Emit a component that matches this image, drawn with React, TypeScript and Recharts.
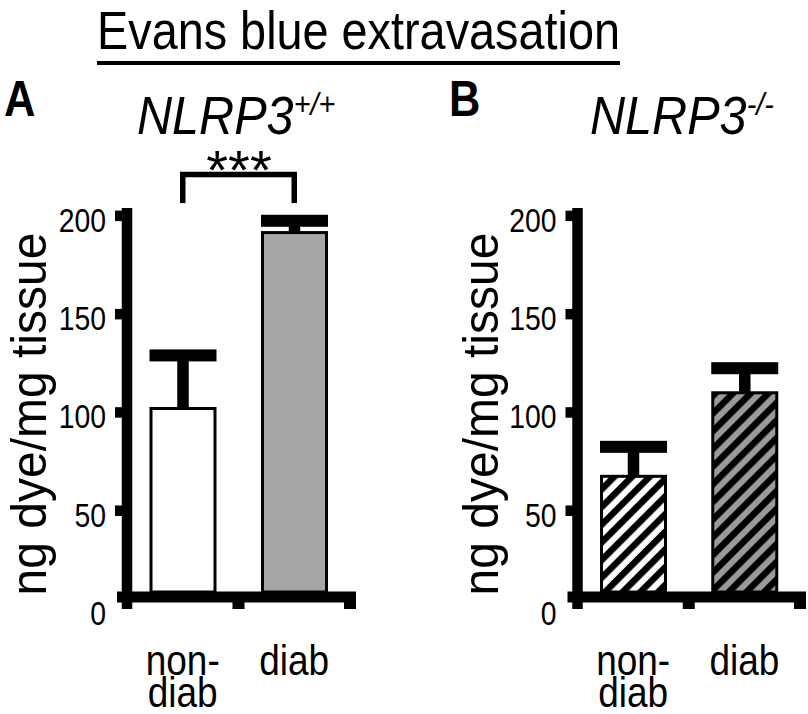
import React from 'react';
import { BarChart, Bar, XAxis, YAxis, ReferenceLine } from 'recharts';

const FONT = "'Liberation Sans', Arial, Helvetica, sans-serif";

// ---- data ----
const categories = ['non-diab', 'diab'];
const categoryLines = [['non-', 'diab'], ['diab']];
const wtMeans = [102, 191.5];
const wtErrors = [27, 6];
const koMeans = [67.5, 110];
const koErrors = [15, 12.5];
const yTicks = [0, 50, 100, 150, 200];
const yMax = 204;
const bracketY = 221;
const bracketLegY = 206.5;

const wtFills = ['#ffffff', '#a6a6a6'];
const koFills = ['url(#hatchWhite)', 'url(#hatchGray)'];

const wtData = categories.map((name, i) => ({ name, mean: wtMeans[i], err: wtErrors[i] }));
const koData = categories.map((name, i) => ({ name, mean: koMeans[i], err: koErrors[i] }));

// ---- layout ----
const CH = 714;
const PLOT_TOP = 208;
const XAXIS_H = 105;
const AXIS_OFFSET = 12; // x-axis line drawn above the zero line (Prism style)
const BAR_SIZE = 64;

const SText = ({ x, y, size, sx = 0.87, anchor = 'start', weight = 'normal', italic = false, rotate = 0, children }: any) => (
  <text
    transform={`translate(${x},${y}) rotate(${rotate}) scale(${sx},1)`}
    textAnchor={anchor}
    fontSize={size}
    fontWeight={weight}
    fontStyle={italic ? 'italic' : 'normal'}
    fontFamily={FONT}
    fill="#000"
  >
    {children}
  </text>
);

const makeBarShape = (fills: string[]) => (props: any) => {
  const { x, y, width, height, index } = props;
  const bottom = y + height - AXIS_OFFSET - 5;
  return (
    <rect x={x} y={y} width={width} height={Math.max(0, bottom - y)} fill={fills[index]} stroke="#000" strokeWidth={3} />
  );
};

const ErrorShape = (props: any) => {
  const { x, y, width, height } = props;
  const cx = x + width / 2;
  return (
    <g>
      <rect x={cx - 5.75} y={y} width={11.5} height={height} fill="#000" />
      <rect x={x - 1.5} y={y - 6} width={width + 3} height={12} fill="#000" />
    </g>
  );
};

const XAxisShape = (props: any) => {
  const { x1, y1, x2 } = props;
  const lineY = y1 - AXIS_OFFSET;
  const mid = (x1 + x2) / 2;
  return (
    <g>
      <rect x={x1 - 10} y={lineY - 5.5} width={x2 + 6 - (x1 - 10)} height={11} fill="#000" />
      {[mid, x2].map((t) => (
        <rect key={t} x={t - 6} y={lineY} width={12} height={AXIS_OFFSET} fill="#000" />
      ))}
    </g>
  );
};

const YTick = (props: any) => {
  const { x, y, payload } = props;
  return (
    <g>
      {payload.value !== 0 && <rect x={x + 10} y={y - 5.25} width={14} height={10.5} fill="#000" />}
      <SText x={x + 1} y={y + 16} size={33} sx={0.86} anchor="end">
        {payload.value}
      </SText>
    </g>
  );
};

const XTick = (props: any) => {
  const { x, y, payload } = props;
  const idx = categories.indexOf(payload.value);
  const lines = categoryLines[idx] || [payload.value];
  return (
    <g>
      {lines.map((ln, i) => (
        <SText key={i} x={x} y={y + 66 + i * 32} size={42} sx={0.88} anchor="middle">
          {ln}
        </SText>
      ))}
    </g>
  );
};

const Panel = ({ data, fills, width, marginRight, yAxisWidth, bracket }: any) => (
  <BarChart
    width={width}
    height={CH}
    data={data}
    margin={{ top: PLOT_TOP, right: marginRight, bottom: 0, left: 0 }}
    barSize={BAR_SIZE}
  >
    <XAxis
      dataKey="name"
      axisLine={false}
      tickLine={false}
      tickSize={0}
      tickMargin={0}
      height={XAXIS_H}
      interval={0}
      tick={<XTick />}
    />
    <YAxis
      type="number"
      domain={[0, yMax]}
      ticks={yTicks}
      interval={0}
      width={yAxisWidth}
      axisLine={{ stroke: '#000', strokeWidth: 10.5 }}
      tickLine={false}
      tickSize={22}
      tickMargin={0}
      tick={<YTick />}
    />
    <Bar dataKey="mean" stackId="s" isAnimationActive={false} shape={makeBarShape(fills)} />
    <Bar dataKey="err" stackId="s" isAnimationActive={false} shape={ErrorShape} />
    <ReferenceLine y={0} ifOverflow="visible" shape={(p: any) => <XAxisShape {...p} />} />
    {bracket && (
      <ReferenceLine
        ifOverflow="visible"
        stroke="#000"
        strokeWidth={5.5}
        strokeLinecap="square"
        segment={[{ x: categories[0], y: bracketY }, { x: categories[1], y: bracketY }]}
      />
    )}
    {bracket && (
      <ReferenceLine
        ifOverflow="visible"
        stroke="#000"
        strokeWidth={5.5}
        segment={[{ x: categories[0], y: bracketLegY }, { x: categories[0], y: bracketY }]}
      />
    )}
    {bracket && (
      <ReferenceLine
        ifOverflow="visible"
        stroke="#000"
        strokeWidth={5.5}
        segment={[{ x: categories[1], y: bracketLegY }, { x: categories[1], y: bracketY }]}
      />
    )}
  </BarChart>
);

export default function App() {
  return (
    <div style={{ position: 'absolute', left: 0, top: 0, width: 808, height: CH, background: '#fff', overflow: 'hidden' }}>
      <svg width={0} height={0} style={{ position: 'absolute' }}>
        <defs>
          <pattern id="hatchWhite" patternUnits="userSpaceOnUse" width={12.5} height={12.5} patternTransform="rotate(45)">
            <rect width={12.5} height={12.5} fill="#ffffff" />
            <rect width={6.5} height={12.5} fill="#000000" />
          </pattern>
          <pattern id="hatchGray" patternUnits="userSpaceOnUse" width={12.5} height={12.5} patternTransform="rotate(45)">
            <rect width={12.5} height={12.5} fill="#9a9a9a" />
            <rect width={6.5} height={12.5} fill="#000000" />
          </pattern>
        </defs>
      </svg>
      <div style={{ position: 'absolute', left: 0, top: 0 }}>
        <Panel data={wtData} fills={wtFills} width={400} marginRight={50} yAxisWidth={127} bracket />
      </div>
      <div style={{ position: 'absolute', left: 450, top: 0 }}>
        <Panel data={koData} fills={koFills} width={358} marginRight={8} yAxisWidth={127.5} bracket={false} />
      </div>
      <svg width={808} height={CH} style={{ position: 'absolute', left: 0, top: 0, pointerEvents: 'none' }}>
        <SText x={358.5} y={49} size={54} sx={0.867} anchor="middle">Evans blue extravasation</SText>
        <rect x={97} y={61} width={523} height={4} fill="#000" />
        <SText x={4} y={116} size={50} sx={0.87} weight="bold">A</SText>
        <SText x={449} y={116} size={50} sx={0.87} weight="bold">B</SText>
        <SText x={137} y={134} size={54} sx={0.9} italic>
          NLRP3<tspan dy={-19} fontSize={32}>+/+</tspan>
        </SText>
        <SText x={590} y={134} size={54} sx={0.9} italic>
          NLRP3<tspan dy={-19} fontSize={32}>-/-</tspan>
        </SText>
        <SText x={239} y={189} size={56} sx={1} anchor="middle">***</SText>
        <SText x={46} y={414} size={50} sx={0.96} anchor="middle" rotate={-90}>ng dye/mg tissue</SText>
        <SText x={498} y={414} size={50} sx={0.96} anchor="middle" rotate={-90}>ng dye/mg tissue</SText>
      </svg>
    </div>
  );
}
